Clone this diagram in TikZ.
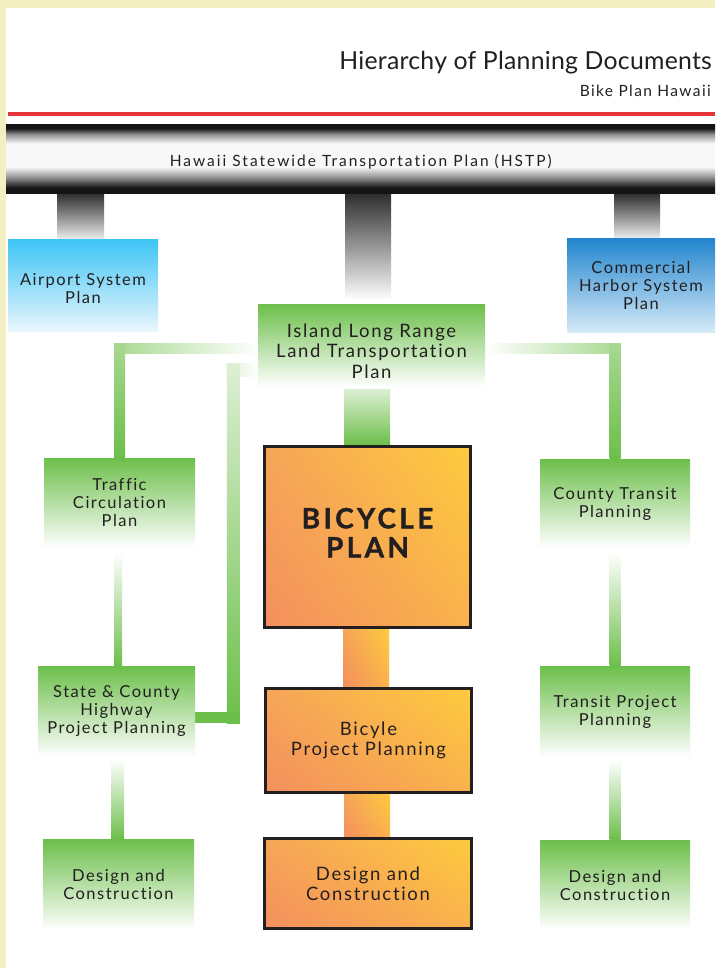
\documentclass[tikz,border=0pt]{standalone}
\usepackage{fontspec}
\setmainfont{Lato}
\newfontfamily\lblfont[LetterSpace=9,Ligatures=NoCommon]{Lato}
\newfontfamily\barfont[LetterSpace=13,Ligatures=NoCommon]{Lato}
\newfontfamily\ttlfont[LetterSpace=1,Ligatures=NoCommon]{Lato}
\newfontfamily\bigfont[LetterSpace=12,Ligatures=NoCommon,BoldFeatures={FakeBold=1.3}]{Lato}
\usetikzlibrary{shadings,calc}
\newcommand\txtshift[2]{\raisebox{#1}[0pt][0pt]{\begin{tabular}{@{}c@{}}#2\end{tabular}}}
\newcommand\txtstack[1]{\begin{tabular}{@{}c@{}}#1\end{tabular}}
\definecolor{bgyel}{HTML}{F2EFC3}
\definecolor{redline}{HTML}{E8353B}
\definecolor{txt}{HTML}{231F20}
\definecolor{grn}{HTML}{6CBF4A}
\definecolor{grnlt}{HTML}{A8D891}
\definecolor{grnpale}{HTML}{DDEFD4}
\definecolor{skytop}{HTML}{3EC5F5}
\definecolor{skybot}{HTML}{EAF6FD}
\definecolor{harbtop}{HTML}{2386CE}
\definecolor{harbbot}{HTML}{D6EAF8}
\definecolor{ormid}{HTML}{F6A558}
\definecolor{orll}{HTML}{F48F5E}
\definecolor{orur}{HTML}{FECB3D}
\definecolor{orlr}{HTML}{F9B24C}
\definecolor{bardark}{HTML}{141414}
\definecolor{bargray}{HTML}{8A8A8A}
\definecolor{barlight}{HTML}{F8F8F8}
\definecolor{stubtop}{HTML}{2E2E2E}
\definecolor{stubbot}{HTML}{EFEFEF}
\pgfdeclareverticalshading{barshade}{100bp}{color(0bp)=(bardark); color(25bp)=(bardark); color(29bp)=(bardark); color(36bp)=(bargray); color(44bp)=(barlight); color(61bp)=(barlight); color(68bp)=(bargray); color(72bp)=(bardark); color(75bp)=(bardark); color(100bp)=(bardark)}
\pgfdeclarelayer{bg}
\pgfdeclarelayer{conn}
\pgfsetlayers{bg,conn,main}
\tikzset{
  gbox/.style={rectangle, inner sep=0pt, align=center, text=txt,
    top color=grn, bottom color=white,
    font=\lblfont\fontsize{16.5}{18}\selectfont},
  obox/.style={rectangle, inner sep=0pt, align=center, text=txt, draw=txt, line width=3pt,
    lower left=orll, upper right=orur, upper left=ormid, lower right=orlr,
    font=\lblfont\fontsize{18.5}{20}\selectfont},
  ostub/.style={lower left=orll, upper right=orur, upper left=ormid, lower right=orlr},
  gstub/.style={top color=stubtop, bottom color=stubbot},
  fadeup/.style={top color=white, bottom color=grn}
}
\begin{document}
\begin{tikzpicture}[x=1pt,y=-1pt]
\useasboundingbox (0,0) rectangle (715,968);
\begin{pgfonlayer}{bg}
\fill[bgyel] (0,0) rectangle (715,968);
\fill[white] (6,8) rectangle (715,968);
\end{pgfonlayer}

% header
\node[anchor=base east, inner sep=0pt, text=txt, font=\ttlfont\fontsize{24.8}{28}\selectfont] (title) at (712,70) {Hierarchy of Planning Documents};
\node[anchor=base east, inner sep=0pt, text=txt, font=\lblfont\fontsize{15.5}{18}\selectfont] (sub) at (711,97) {Bike Plan Hawaii};
\fill[redline] (8,112) rectangle (715,116);

% statewide bar
\node[rectangle, anchor=north west, inner sep=0pt, minimum width=709pt, minimum height=69pt,
  shading=barshade, text=txt,
  font=\barfont\fontsize{15.5}{16}\selectfont] (hstp) at (6,124) {\raisebox{-8pt}[0pt][0pt]{Hawaii Statewide Transportation Plan (HSTP)}};

% top level boxes
\node[gbox, top color=skytop, bottom color=skybot, minimum width=150pt, minimum height=91pt] (air) at (83,285.5) {\txtshift{-9.5pt}{Airport System\\Plan}};
\node[gbox, top color=harbtop, bottom color=harbbot, minimum width=148pt, minimum height=93pt] (harb) at (641,285.5) {Commercial\\Harbor System\\Plan};
\node[gbox, minimum width=227pt, minimum height=83pt, font=\lblfont\fontsize{18.5}{20.5}\selectfont] (isl) at (371.5,345.5) {\txtshift{-12.5pt}{Island Long Range\\Land Transportation\\Plan}};

% green boxes
\node[gbox, minimum width=151pt, minimum height=90pt] (trf) at (119.5,503) {Traffic\\Circulation\\Plan};
\node[gbox, minimum width=150pt, minimum height=89pt] (cty) at (615,503.5) {County Transit\\Planning};
\node[gbox, minimum width=157pt, minimum height=91pt] (sch) at (116.5,711.5) {State \& County\\Highway\\Project Planning};
\node[gbox, minimum width=150pt, minimum height=91pt] (tpp) at (615,711.5) {Transit Project\\Planning};
\node[gbox, minimum width=151pt, minimum height=91pt] (dl) at (118.5,884.5) {Design and\\Construction};
\node[gbox, minimum width=150pt, minimum height=90pt] (dr) at (615,885) {Design and\\Construction};

% orange boxes
\node[obox, minimum width=206pt, minimum height=181pt, font=\bigfont\bfseries\fontsize{28}{29}\selectfont] (bike) at (367.5,537) {\txtstack{BICYCLE\\PLAN}};
\node[obox, minimum width=206pt, minimum height=104pt] (bpp) at (368.5,740.5) {Bicyle\\Project Planning};
\node[obox, minimum width=207pt, minimum height=90pt] (dc) at (368,883.5) {Design and\\Construction};

\begin{pgfonlayer}{conn}
% gray stubs
\shade[gstub] ($(hstp.south -| air.north)+(-26,0)$) rectangle ($(air.north)+(21,0)$);
\shade[top color=stubtop, bottom color=white] ($(hstp.south -| isl.north)+(-26.5,0)$) rectangle ($(isl.north)+(19.5,-4)$);
\shade[gstub] ($(hstp.south -| harb.north)+(-27,0)$) rectangle ($(harb.north)+(19,0)$);

% island -> traffic
\coordinate (c1) at ($(trf.north |- isl.west)+(0,3)$);
\shade[left color=grnlt, right color=white] ($(c1)+(-5.5,-5)$) rectangle ($(isl.west |- c1)+(0,5)$);
\shade[top color=grnlt, bottom color=grn] ($(c1)+(-5.5,-5)$) rectangle ($(trf.north)+(5.5,0)$);
% island -> county
\coordinate (c4) at ($(cty.north |- isl.east)+(0,3)$);
\shade[left color=white, right color=grnlt] ($(isl.east |- c4)+(0,-5)$) rectangle ($(c4)+(5.5,5)$);
\shade[top color=grnlt, bottom color=grn] ($(c4)+(-5.5,-5)$) rectangle ($(cty.north)+(5.5,0)$);
% island -> state & county
\coordinate (c2) at ($(isl.west)+(-24.5,24.5)$);
\coordinate (c3) at ($(c2 |- sch.east)+(0,5.5)$);
\shade[left color=grnpale, right color=white] ($(c2)+(-6.5,-6.5)$) rectangle ($(isl.west |- c2)+(0,6.5)$);
\shade[top color=grnpale, bottom color=grn] ($(c2)+(-6.5,-6.5)$) rectangle ($(c3)+(6.5,6)$);
\fill[grn] ($(sch.east |- c3)+(0,-5.5)$) rectangle ($(c3)+(6.5,5.5)$);

% vertical fades
\shade[fadeup] ($(trf.south)+(-5.5,4)$) rectangle ($(sch.north)+(5.5,0)$);
\shade[fadeup] ($(sch.south)+(-5.5,2)$) rectangle ($(dl.north)+(5.5,0)$);
\shade[fadeup] ($(cty.south)+(-5.5,4)$) rectangle ($(tpp.north)+(5.5,0)$);
\shade[fadeup] ($(tpp.south)+(-5.5,3)$) rectangle ($(dr.north)+(5.5,0)$);

% central stubs
\shade[top color=grnpale, bottom color=grn] ($(isl.south)+(-27.5,2)$) rectangle ($(bike.north)+(22.5,0)$);
\shade[ostub] ($(bike.south)+(-24.5,0)$) rectangle ($(bpp.north)+(20.5,0)$);
\shade[ostub] ($(bpp.south)+(-24.5,0)$) rectangle ($(dc.north)+(22,0)$);
\end{pgfonlayer}
\end{tikzpicture}
\end{document}
